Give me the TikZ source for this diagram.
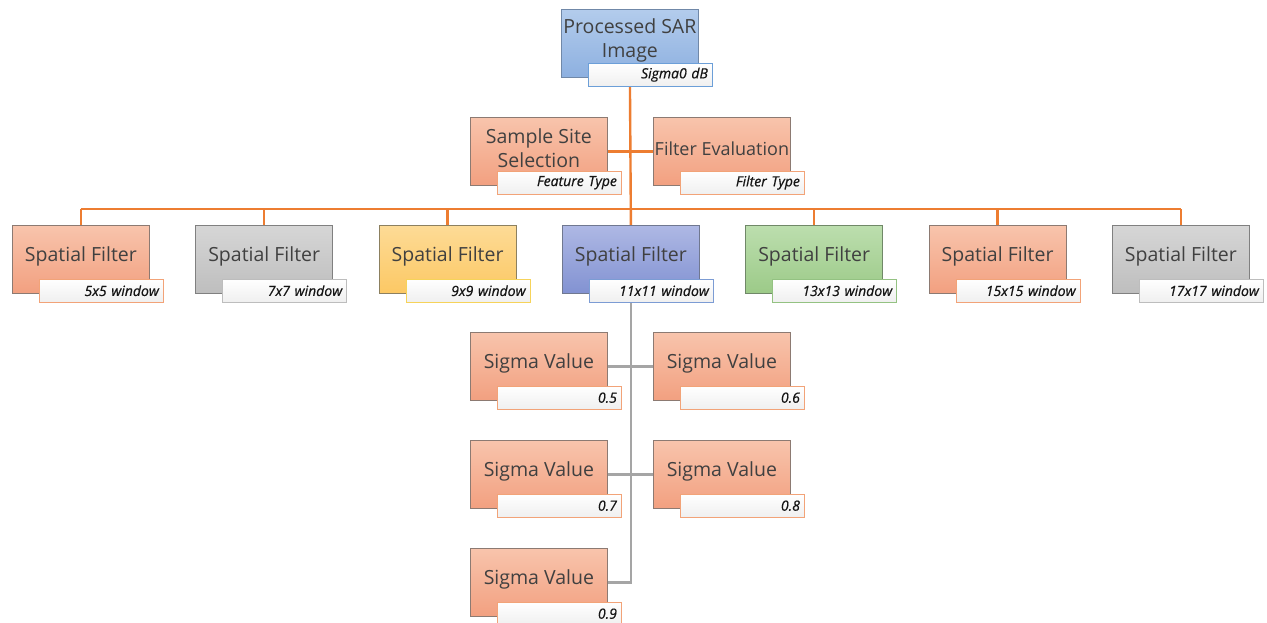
\documentclass[tikz,border=0pt]{standalone}
\usepackage{fontspec}
\setmainfont{Open Sans}
\newfontfamily\lblfont{Open Sans}[FakeBold=0.6]
\usetikzlibrary{backgrounds}
\definecolor{txt}{HTML}{404040}
\definecolor{lbltxt}{HTML}{151515}
\definecolor{conorange}{HTML}{ED7D31}
\definecolor{congray}{HTML}{A5A5A5}
\tikzset{
  mainbox/.style={rectangle, minimum width=137pt, minimum height=68pt, inner sep=0pt, line width=0.8pt},
  maintext/.style={font=\fontsize{19.5}{23.5}\selectfont, text=txt, align=center, inner sep=0pt},
  labelbox/.style={rectangle, text width=115pt, minimum height=23pt, inner xsep=4.5pt, inner ysep=0pt, align=right,
     font=\fontsize{14}{15}\selectfont\lblfont\itshape, text=lbltxt, line width=0.8pt,
     top color=white, bottom color=white!94!black},
  topblue/.style={top color=cTopA, bottom color=cTopB, draw=cTopD},
  topbluel/.style={draw=cTopL},
  salmon/.style={top color=cSalA, bottom color=cSalB, draw=cSalD},
  salmonl/.style={draw=cSalL},
  grey/.style={top color=cGrA, bottom color=cGrB, draw=cGrD},
  greyl/.style={draw=cGrL},
  yellow/.style={top color=cYeA, bottom color=cYeB, draw=cYeD},
  yellowl/.style={draw=cYeL},
  blue/.style={top color=cBlA, bottom color=cBlB, draw=cBlD},
  bluel/.style={draw=cBlL},
  green/.style={top color=cGnA, bottom color=cGnB, draw=cGnD},
  greenl/.style={draw=cGnL},
  orangecon/.style={draw=conorange, line width=2.4pt},
  graycon/.style={draw=congray, line width=2.4pt},
}
\definecolor{cTopA}{HTML}{B3CCEC}
\definecolor{cTopB}{HTML}{8DB0E0}
\definecolor{cTopD}{HTML}{7088A8}
\definecolor{cTopL}{HTML}{6C9FD8}
\definecolor{cSalA}{HTML}{F8C4AC}
\definecolor{cSalB}{HTML}{F2A080}
\definecolor{cSalD}{HTML}{8C7A72}
\definecolor{cSalL}{HTML}{F2A378}
\definecolor{cGrA}{HTML}{D6D6D6}
\definecolor{cGrB}{HTML}{BEBEBE}
\definecolor{cGrD}{HTML}{808080}
\definecolor{cGrL}{HTML}{BDBDBD}
\definecolor{cYeA}{HTML}{FDDB96}
\definecolor{cYeB}{HTML}{FCC864}
\definecolor{cYeD}{HTML}{8C8060}
\definecolor{cYeL}{HTML}{F6D35A}
\definecolor{cBlA}{HTML}{AEB8E4}
\definecolor{cBlB}{HTML}{8292D2}
\definecolor{cBlD}{HTML}{707890}
\definecolor{cBlL}{HTML}{7C9CD4}
\definecolor{cGnA}{HTML}{BCDEAE}
\definecolor{cGnB}{HTML}{9CCA88}
\definecolor{cGnD}{HTML}{708868}
\definecolor{cGnL}{HTML}{94C282}
\newcommand\mkbox[7][]{%
  \node[mainbox,#5,anchor=north west] (#2) at (#3,#4) {};
  \node[maintext,#1] (#2t) at ([yshift=3pt]#2.center) {#6};
  \node[labelbox,#5l,anchor=north west] (#2l) at ([xshift=27pt,yshift=15pt]#2.south west) {#7};
}
\begin{document}
\begin{tikzpicture}[x=1pt,y=-1pt]
\useasboundingbox (0,0) rectangle (1267,623);
\mkbox{top}{561}{9}{topblue}{Processed SAR\\Image}{Sigma0 dB}
\mkbox{samp}{470}{117}{salmon}{Sample Site\\Selection}{Feature Type}
\mkbox[font=\fontsize{18}{22}\selectfont]{feval}{653}{117}{salmon}{Filter Evaluation}{Filter Type}
\mkbox{sfa}{12}{225}{salmon}{Spatial Filter}{5x5 window}
\mkbox{sfb}{195.3}{225}{grey}{Spatial Filter}{7x7 window}
\mkbox{sfc}{378.7}{225}{yellow}{Spatial Filter}{9x9 window}
\mkbox{sfd}{562}{225}{blue}{Spatial Filter}{11x11 window}
\mkbox{sfe}{745.3}{225}{green}{Spatial Filter}{13x13 window}
\mkbox{sff}{928.7}{225}{salmon}{Spatial Filter}{15x15 window}
\mkbox{sfg}{1112}{225}{grey}{Spatial Filter}{17x17 window}
\mkbox{sga}{470}{332}{salmon}{Sigma Value}{0.5}
\mkbox{sgb}{653}{332}{salmon}{Sigma Value}{0.6}
\mkbox{sgc}{470}{440}{salmon}{Sigma Value}{0.7}
\mkbox{sgd}{653}{440}{salmon}{Sigma Value}{0.8}
\mkbox{sge}{470}{548}{salmon}{Sigma Value}{0.9}
\coordinate (hbar) at (630,209);
\begin{scope}[on background layer]
  \fill[white] (0,0) rectangle (1267,623);
  \draw[orangecon] (top.south) -- (sfd.north);
  \draw[orangecon] (samp.east) -- (feval.west);
  \draw[orangecon] (sfa.north |- hbar) -- (sfg.north |- hbar);
  \foreach \n in {sfa,sfb,sfc,sfe,sff,sfg}{
    \draw[orangecon] (\n.north) -- (\n.north |- hbar);
  }
  \draw[graycon] (sfd.south) |- (sge.east);
  \draw[graycon] (sga.east) -- (sgb.west);
  \draw[graycon] (sgc.east) -- (sgd.west);
\end{scope}
\end{tikzpicture}
\end{document}
